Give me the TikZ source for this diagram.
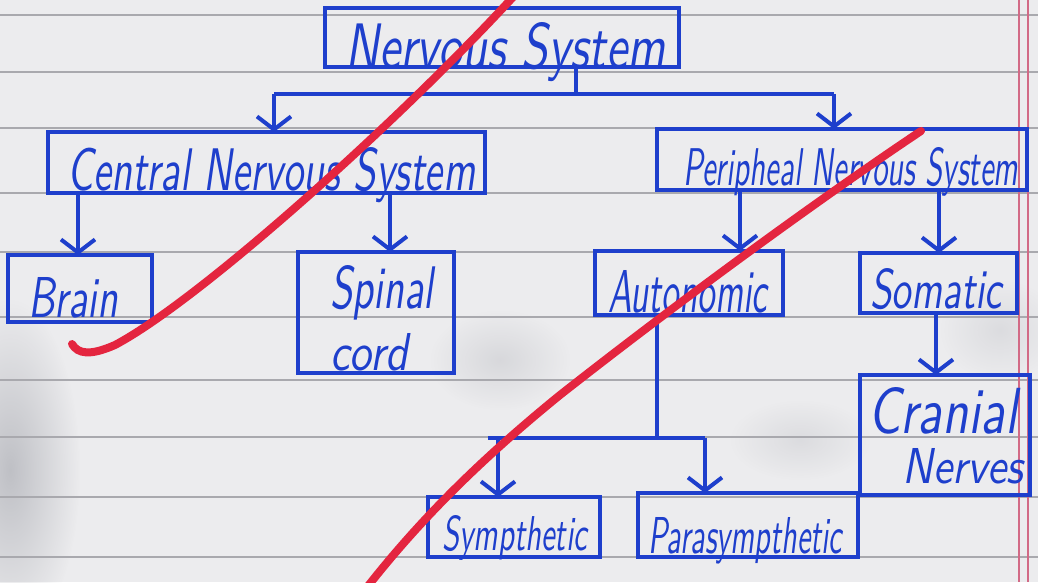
\documentclass[tikz,border=0pt]{standalone}
\usepackage{fontspec}
\usepackage{graphicx}
\usetikzlibrary{arrows.meta,fadings}
\definecolor{paper}{HTML}{ECECEE}
\definecolor{pen}{HTML}{1E3FCC}
\definecolor{strikered}{HTML}{E4253F}
\definecolor{ruleline}{HTML}{A9A9AE}
\definecolor{marginline}{HTML}{D26A86}
\definecolor{smudge}{HTML}{9A9CA4}
\tikzfading[name=softfade, inner color=transparent!0, outer color=transparent!100]
\newcommand{\hw}[3]{\resizebox{#1pt}{#2pt}{\sffamily\itshape #3}}
\begin{document}
\begin{tikzpicture}[x=1pt,y=-1pt,
  box/.style={draw=pen, line width=4pt, inner sep=0pt, outer sep=0pt},
  lbl/.style={anchor=base west, inner sep=0pt, text=pen},
  wire/.style={draw=pen, line width=4pt},
  arr/.style={draw=pen, line width=4pt, -{Straight Barb[length=13pt,width=34pt]}},
  strike/.style={draw=strikered, line width=8pt, line cap=round},
  ruled/.style={draw=ruleline, line width=1.6pt},
  marg/.style={draw=marginline, line width=1.3pt},
  smudgy/.style={fill=smudge, path fading=softfade}]
% paper
\fill[paper] (0,0) rectangle (1038,582);
\useasboundingbox (0,0) rectangle (1038,582);
% smudges
\fill[smudgy, opacity=0.55] (10,470) ellipse [x radius=70, y radius=170];
\fill[smudgy, opacity=0.25] (500,360) ellipse [x radius=70, y radius=50];
\fill[smudgy, opacity=0.2] (800,440) ellipse [x radius=70, y radius=40];
\fill[smudgy, opacity=0.2] (1000,330) ellipse [x radius=60, y radius=50];
\foreach \yy in {15,72,128,193,252,317,380,437,497,557}
  \draw[ruled] (0,\yy) -- (1038,\yy);
\draw[marg] (1019,0) -- (1019,582);
\draw[marg] (1028,0) -- (1028,582);
% boxes
\node[box, minimum width=354pt, minimum height=59pt] (ns) at (502,37.5) {};
\node[box, minimum width=437pt, minimum height=61pt] (cns) at (266.5,162.5) {};
\node[box, minimum width=370pt, minimum height=61pt] (pns) at (842,159.5) {};
\node[box, minimum width=144pt, minimum height=67pt] (brain) at (80,288.5) {};
\node[box, minimum width=156pt, minimum height=121pt] (spinal) at (376,312.5) {};
\node[box, minimum width=188pt, minimum height=64pt] (auto) at (689,283) {};
\node[box, minimum width=157pt, minimum height=60pt] (soma) at (938.5,283) {};
\node[box, minimum width=170pt, minimum height=120pt] (cran) at (945,435) {};
\node[box, minimum width=172pt, minimum height=60pt] (symp) at (514,527) {};
\node[box, minimum width=220pt, minimum height=64pt] (para) at (748,525) {};
% labels
\node[lbl] (tns) at (345,68) {\hw{320}{46}{Nervous System}};
\node[lbl] (tcns) at (67,190) {\hw{408}{43}{Central Nervous System}};
\node[lbl] (tpns) at (683,185) {\hw{335}{38}{Peripheal Nervous System}};
\node[lbl] (tbrain) at (28,317) {\hw{90}{40}{Brain}};
\node[lbl] (tsp1) at (330,308) {\hw{103}{43}{Spinal}};
\node[lbl] (tsp2) at (330,370) {\hw{78}{37}{cord}};
\node[lbl] (tauto) at (608,312) {\hw{159}{42}{Autonomic}};
\node[lbl] (tsoma) at (870,308) {\hw{132}{40}{Somatic}};
\node[lbl] (tcr1) at (868,433) {\hw{149}{46}{Cranial}};
\node[lbl] (tcr2) at (902,483) {\hw{121}{35}{Nerves}};
\node[lbl] (tsymp) at (442,550) {\hw{145}{35}{Sympthetic}};
\node[lbl] (tpara) at (648,553) {\hw{194}{36}{Parasympthetic}};
% connectors
\coordinate (j1) at (576,94);
\coordinate (jl) at (274,94);
\coordinate (jr) at (834,94);
\draw[wire] (ns.south -| j1) -- (j1);
\draw[wire] (jl) -- (jr);
\draw[arr] (jl) -- (jl |- cns.north);
\draw[arr] (jr) -- (jr |- pns.north);
\draw[arr] (cns.south -| 78,0) -- (brain.north -| 78,0);
\draw[arr] (cns.south -| 390,0) -- (spinal.north -| 390,0);
\draw[arr] (pns.south -| 740,0) -- (auto.north -| 740,0);
\draw[arr] (pns.south -| 939,0) -- (soma.north -| 939,0);
\draw[arr] (soma.south -| 936,0) -- (cran.north -| 936,0);
\coordinate (a1) at (657,438);
\coordinate (al) at (488,438);
\coordinate (as) at (498,438);
\coordinate (ar) at (705,438);
\draw[wire] (auto.south -| a1) -- (a1);
\draw[wire] (al) -- (ar);
\draw[arr] (as) -- (as |- symp.north);
\draw[arr] (ar) -- (ar |- para.north);
% red strikes
\draw[strike] (72,344) .. controls (78,354) and (90,356) .. (115,345) .. controls (200,300) and (400,120) .. (514,-4);
\draw[strike] (921,131) .. controls (840,185) and (700,285) .. (560,395) .. controls (480,460) and (420,520) .. (368,586);
\end{tikzpicture}
\end{document}
